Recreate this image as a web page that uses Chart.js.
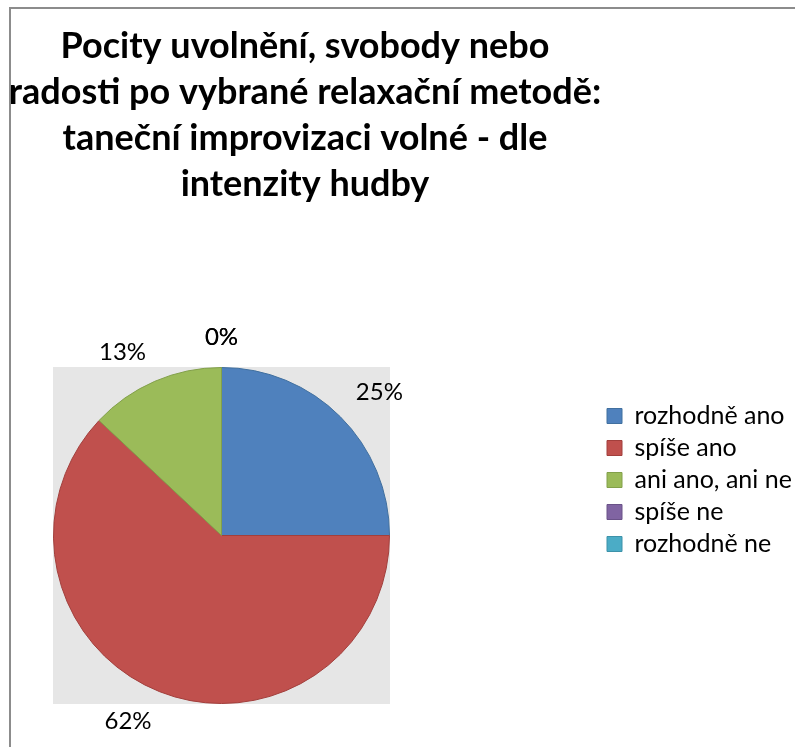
<!DOCTYPE html>
<html lang="cs">
<head>
<meta charset="utf-8">
<title>Pocity uvolnění, svobody nebo radosti</title>
<script src="https://cdn.jsdelivr.net/npm/chart.js@4.4.1/dist/chart.umd.min.js"></script>
<style>
    html, body { margin: 0; padding: 0; background: #fff; }
    #wrap { position: relative; width: 795px; height: 747px; overflow: hidden; }
    #frame {
        position: absolute; left: 9px; top: 7px; width: 900px; height: 900px;
        border-left: 2px solid #8c8c8c; border-top: 2px solid #8c8c8c;
    }
    #chartPocity { position: absolute; left: 0; top: 0; }
</style>
</head>
<body>
<div id="wrap">
    <div id="frame"></div>
    <canvas id="chartPocity" width="795" height="747"></canvas>
</div>
<script>
var titleLines = [
    'Pocity uvolnění, svobody nebo',
    'radosti po vybrané relaxační metodě:',
    'taneční improvizaci volné - dle',
    'intenzity hudby'
];
var categories = ['rozhodně ano', 'spíše ano', 'ani ano, ani ne', 'spíše ne', 'rozhodně ne'];
var percentValues = [25, 62, 13, 0, 0];
var sliceColors = ['#4f81bd', '#c0504d', '#9bbb59', '#8064a2', '#4bacc6'];
var sliceEdges = ['#41709f', '#a23f3c', '#82a04a', '#6a5288', '#3d92a9'];

Chart.defaults.font.family = 'Lato';
Chart.defaults.color = '#000';

// grey square behind the pie, sized from the pie itself
var plotBackground = {
    id: 'plotBackground',
    beforeDatasetsDraw: function (chart, args, opts) {
        var arc = chart.getDatasetMeta(0).data[0];
        var p = arc.getProps(['x', 'y', 'outerRadius']);
        var r = p.outerRadius + arc.options.borderWidth / 2;
        var ctx = chart.ctx;
        ctx.save();
        ctx.fillStyle = opts.color;
        ctx.fillRect(p.x - r, p.y - r, 2 * r, 2 * r);
        ctx.restore();
    }
};

// moves the legend column to the right side of the frame
var legendPlace = {
    id: 'legendPlace',
    afterLayout: function (chart, args, opts) {
        var lg = chart.legend;
        var dy = opts.top - lg.top;
        lg.left = opts.left;
        lg.right = chart.width;
        lg.top += dy;
        lg.bottom += dy;
    }
};

// percentage text just outside each slice, corner towards the pie
var sliceLabels = {
    id: 'sliceLabels',
    afterDatasetsDraw: function (chart, args, opts) {
        var ctx = chart.ctx;
        var meta = chart.getDatasetMeta(0);
        var values = chart.data.datasets[0].data;
        ctx.save();
        ctx.font = opts.size + 'px ' + opts.family;
        ctx.fillStyle = opts.color;
        ctx.textAlign = 'center';
        ctx.textBaseline = 'middle';
        meta.data.forEach(function (arc, i) {
            var p = arc.getProps(['x', 'y', 'startAngle', 'endAngle', 'outerRadius']);
            var mid = (p.startAngle + p.endAngle) / 2;
            var text = values[i] + '%';
            var halfW = ctx.measureText(text).width / 2;
            var halfH = opts.size * 0.36;
            var ux = Math.cos(mid), uy = Math.sin(mid);
            var sx = Math.abs(ux) < 0.01 ? 0 : Math.sign(ux);
            var sy = Math.abs(uy) < 0.01 ? 0 : Math.sign(uy);
            var d = p.outerRadius + opts.gap;
            ctx.fillText(text, p.x + ux * d + sx * halfW, p.y + uy * d + sy * halfH);
        });
        ctx.restore();
    }
};

var ctx = document.getElementById('chartPocity').getContext('2d');

var chartData = {
    labels: categories,
    datasets: [{
        data: percentValues,
        backgroundColor: sliceColors,
        borderColor: sliceEdges,
        borderWidth: 1
    }]
};

var options = {
    responsive: false,
    animation: false,
    layout: {
        padding: { left: 0, right: 185, top: 0, bottom: 43 }
    },
    plugins: {
        title: {
            display: true,
            text: titleLines,
            color: '#000',
            font: { family: 'Lato', weight: 'bold', size: 36, lineHeight: 46 / 36 },
            padding: { top: 23, bottom: 160 }
        },
        legend: {
            position: 'right',
            align: 'start',
            maxWidth: 167,
            labels: {
                boxWidth: 15,
                boxHeight: 15,
                padding: 7,
                color: '#000',
                font: { family: 'Lato', size: 25 }
            }
        },
        tooltip: { enabled: false },
        plotBackground: { color: '#e6e6e6' },
        legendPlace: { left: 600, top: 396.5 },
        sliceLabels: { family: 'Lato', size: 24, color: '#000', gap: 22 }
    }
};

var pocityChart = new Chart(ctx, {
    type: 'pie',
    data: chartData,
    options: options,
    plugins: [plotBackground, legendPlace, sliceLabels]
});
</script>
</body>
</html>
